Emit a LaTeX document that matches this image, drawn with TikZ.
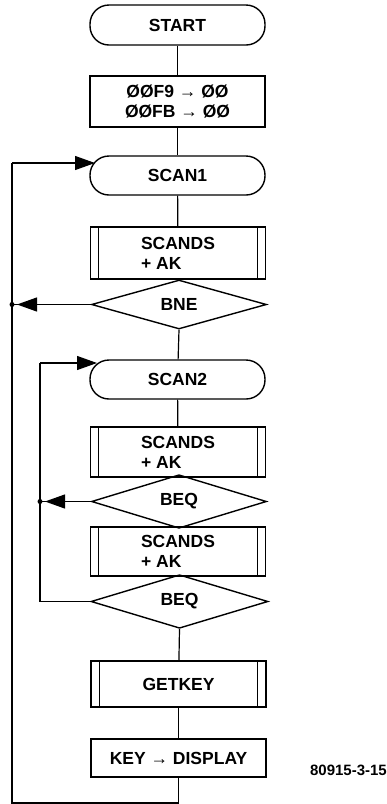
\documentclass[tikz,border=0pt]{standalone}
\usepackage{fontspec}
\setmainfont{Liberation Sans}
\usetikzlibrary{shapes.geometric,arrows.meta}
\tikzset{
  txt/.style={font=\bfseries\fontsize{17.5}{20}\selectfont},
  box/.style={draw, line width=1.4pt, minimum width=175pt, inner sep=0pt, txt, align=center},
  term/.style={box, rounded corners=19pt},
  subbox/.style={box, align=left},
  dec/.style={diamond, draw, line width=1.4pt, inner sep=0pt, minimum width=175pt, txt},
  conn/.style={line width=1.2pt},
  arr/.style={conn, -{Triangle[length=20pt,width=14pt]}},
  jdot/.style={circle, fill, inner sep=0pt, minimum size=5pt},
}
\newcommand{\subbars}[1]{%
  \draw[line width=1.1pt] ([xshift=9pt]#1.north west) -- ([xshift=9pt]#1.south west);
  \draw[line width=1.1pt] ([xshift=-9pt]#1.north east) -- ([xshift=-9pt]#1.south east);}
\begin{document}
\begin{tikzpicture}[x=1pt,y=1pt]
\useasboundingbox (0,0) rectangle (387,-804);
\node[term, minimum height=40pt] (start) at (177.5,-25) {START};
\node[box, minimum height=51pt] (init) at (177.5,-101.5) {ØØF9 → ØØ\\ØØFB → ØØ};
\node[term, minimum height=39pt] (scan1) at (177.5,-175.5) {SCAN1};
\node[subbox, minimum height=52pt] (sub1) at (178,-253) {SCANDS\\+ AK};
\node[dec, minimum height=49pt] (bne) at (179,-304.5) {BNE};
\node[term, minimum height=39pt] (scan2) at (177.5,-379.5) {SCAN2};
\node[subbox, minimum height=50pt] (sub2) at (178,-452) {SCANDS\\+ AK};
\node[dec, minimum height=49pt] (beq1) at (179,-501.5) {BEQ};
\node[subbox, minimum height=49pt] (sub3) at (178,-551.5) {SCANDS\\+ AK};
\node[dec, minimum height=51pt, minimum width=177pt] (beq2) at (179.5,-601.5) {BEQ};
\node[box, minimum height=46pt] (getkey) at (178.5,-684) {GETKEY};
\node[box, minimum height=38pt] (keyd) at (178.5,-758) {KEY → DISPLAY};
\node[font=\bfseries\fontsize{15}{17}\selectfont, anchor=east, inner sep=0pt] (lbl) at (387,-770) {80915-3-15};
\subbars{sub1}\subbars{sub2}\subbars{sub3}\subbars{getkey}
% main flow
\draw[conn] (start) -- (init);
\draw[conn] (init) -- (scan1);
\draw[conn] (scan1) -- (sub1);
\draw[conn] (bne.south) -- (scan2);
\draw[conn] (scan2) -- (sub2);
\draw[conn] (beq2.south) -- (getkey);
\draw[conn] (getkey) -- (keyd);
% outer loop
\coordinate (ob) at (178.5,-803);
\coordinate (obl) at (12,-803);
\coordinate (otl) at (12,-163);
\coordinate (s1in) at (95,-163);
\node[jdot] (j1) at (12,-304.5) {};
\draw[conn] (keyd.south) -- (ob) -- (obl) -- (otl);
\draw[arr] (otl) -- (s1in);
\draw[conn] (bne.west) -- (j1.center);
\draw[arr] (bne.west) -- ([xshift=5pt]j1.center);
% inner loop
\coordinate (ibl) at (40,-601.5);
\coordinate (itl) at (40,-363);
\coordinate (s2in) at (97,-363);
\node[jdot] (j2) at (40,-501.5) {};
\draw[conn] (beq2.west) -- (ibl) -- (itl);
\draw[arr] (itl) -- (s2in);
\draw[conn] (beq1.west) -- (j2.center);
\draw[arr] (beq1.west) -- ([xshift=5pt]j2.center);
\end{tikzpicture}
\end{document}
